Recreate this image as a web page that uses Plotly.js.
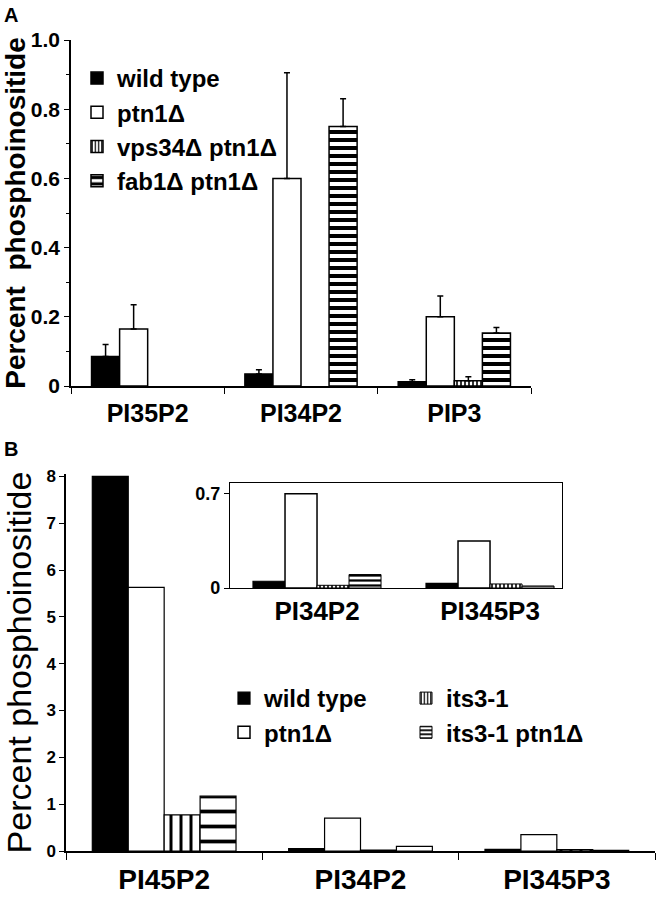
<!DOCTYPE html>
<html><head><meta charset="utf-8">
<script src="https://cdn.plot.ly/plotly-3.0.1.min.js"></script>
<style>body{margin:0;background:#fff}#chart{width:656px;height:900px}</style>
</head><body><div id="chart"></div>
<script>
// Panel A data
const catsA = ['PI35P2', 'PI34P2', 'PIP3'];
const wildA = [0.085, 0.035, 0.012];
const wildAerr = [0.035, 0.012, 0.006];
const ptnA = [0.165, 0.60, 0.20];
const ptnAerr = [0.07, 0.305, 0.06];
const vpsA = [null, null, 0.015];
const vpsAerr = [0, 0, 0.012];
const fabA = [null, 0.75, 0.153];
const fabAerr = [0, 0.08, 0.016];
const yTicksA = [0, 0.2, 0.4, 0.6, 0.8, 1.0];
const yTickTextA = ['0', '0.2', '0.4', '0.6', '0.8', '1.0'];

// Panel B data
const catsB = ['PI45P2', 'PI34P2', 'PI345P3'];
const wildB = [8.0, 0.05, 0.035];
const ptnB = [5.63, 0.70, 0.35];
const itsB = [0.77, 0.02, 0.03];
const itsPtnB = [1.17, 0.10, 0.015];
const catsInset = ['PI34P2', 'PI345P3'];
const insetTicks = [0, 0.7];
const insetTickText = ['0', '0.7'];

const FONT = 'Liberation Sans, Arial, Helvetica, sans-serif';
const P = 656, H = 900;
const px = v => v / P, py = v => 1 - v / H;

const line = w => ({color: '#000', width: w});
function bar(x, y, name, opts) {
  return Object.assign({type: 'bar', x: x, y: y, name: name, hoverinfo: 'x+y+name'}, opts);
}
function errs(arr) {
  return {type: 'data', symmetric: false, array: arr, arrayminus: arr.map(() => 0),
          color: '#000', thickness: 1.5, width: 3};
}

const wA = 0.183, wB = 0.183, wI = 0.185;
const pat = (shape, size, sol) => ({shape: shape, fgcolor: '#000', bgcolor: '#fff', size: size, solidity: sol, fillmode: 'replace'});

const traces = [
  // Panel A
  bar(catsA, wildA, 'wild type', {xaxis: 'x', yaxis: 'y', legend: 'legend', legendgroup: 'a1',
    width: wA, offset: -2 * wA, marker: {color: '#000', line: line(1.5)}, error_y: errs(wildAerr)}),
  bar(catsA, ptnA, 'ptn1Δ', {xaxis: 'x', yaxis: 'y', legend: 'legend', legendgroup: 'a2',
    width: wA, offset: -wA, marker: {color: '#fff', line: line(1.5)}, error_y: errs(ptnAerr)}),
  bar(catsA, vpsA, 'vps34Δ ptn1Δ', {xaxis: 'x', yaxis: 'y', legend: 'legend', legendgroup: 'a3',
    width: wA, offset: 0, marker: {color: '#fff', line: line(1.5), pattern: pat('|', 4, 0.4)}, error_y: errs(vpsAerr)}),
  bar(catsA, fabA, 'fab1Δ ptn1Δ', {xaxis: 'x', yaxis: 'y', legend: 'legend', legendgroup: 'a4',
    width: wA, offset: wA, marker: {color: '#fff', line: line(1.5), pattern: pat('-', 8, 0.5)}, error_y: errs(fabAerr)}),
  // Panel B main
  bar(catsB, wildB, 'wild type', {xaxis: 'x2', yaxis: 'y2', showlegend: false, legendgroup: 'b1',
    width: wB, offset: -2 * wB, marker: {color: '#000', line: line(1.2)}}),
  bar(catsB, ptnB, 'ptn1Δ', {xaxis: 'x2', yaxis: 'y2', showlegend: false, legendgroup: 'b2',
    width: wB, offset: -wB, marker: {color: '#fff', line: line(1.2)}}),
  bar(catsB, itsB, 'its3-1', {xaxis: 'x2', yaxis: 'y2', showlegend: false, legendgroup: 'b3',
    width: wB, offset: 0, marker: {color: '#fff', line: line(1.2), pattern: pat('|', 10, 0.3)}}),
  bar(catsB, itsPtnB, 'its3-1 ptn1Δ', {xaxis: 'x2', yaxis: 'y2', showlegend: false, legendgroup: 'b4',
    width: wB, offset: wB, marker: {color: '#fff', line: line(1.2), pattern: pat('-', 15, 0.25)}}),
  // Panel B inset (also carries the legend entries)
  bar(catsInset, wildB.slice(1), 'wild type', {xaxis: 'x3', yaxis: 'y3', legend: 'legend2', legendgroup: 'b1',
    width: wI, offset: -2 * wI, marker: {color: '#000', line: line(1.2)}}),
  bar(catsInset, ptnB.slice(1), 'ptn1Δ', {xaxis: 'x3', yaxis: 'y3', legend: 'legend2', legendgroup: 'b2',
    width: wI, offset: -wI, marker: {color: '#fff', line: line(1.5)}}),
  bar(catsInset, itsB.slice(1), 'its3-1', {xaxis: 'x3', yaxis: 'y3', legend: 'legend3', legendgroup: 'b3',
    width: wI, offset: 0, marker: {color: '#fff', line: line(1), pattern: pat('|', 4, 0.4)}}),
  bar(catsInset, itsPtnB.slice(1), 'its3-1 ptn1Δ', {xaxis: 'x3', yaxis: 'y3', legend: 'legend3', legendgroup: 'b4',
    width: wI, offset: wI, marker: {color: '#fff', line: line(1), pattern: pat('-', 5, 0.45)}})
];

const axBase = {showgrid: false, zeroline: false, showline: true, linecolor: '#000', linewidth: 1.5,
  tickcolor: '#000', fixedrange: true};
const boldFont = s => ({family: FONT, size: s, color: '#000', weight: 'bold'});
const legendBase = {xanchor: 'left', yanchor: 'top', bgcolor: 'rgba(0,0,0,0)', font: boldFont(24),
  tracegroupgap: 0, itemclick: false, itemdoubleclick: false};

const layout = {
  width: P, height: H,
  margin: {l: 0, r: 0, t: 0, b: 0},
  paper_bgcolor: '#fff', plot_bgcolor: 'rgba(0,0,0,0)',
  barmode: 'group',
  font: {family: FONT, color: '#000'},
  xaxis: Object.assign({}, axBase, {domain: [px(71), px(531)], anchor: 'y', type: 'category',
    range: [-0.5, 2.5], ticks: 'outside', tickson: 'boundaries', ticklen: 6, tickfont: boldFont(25),
    ticklabelstandoff: 4}),
  yaxis: Object.assign({}, axBase, {domain: [py(386), py(40)], anchor: 'x', range: [0, 1.0],
    tickvals: yTicksA, ticktext: yTickTextA, ticks: 'outside', ticklen: 5, tickfont: boldFont(21),
    minor: {dtick: 0.1, ticks: 'outside', ticklen: 3, tickcolor: '#000'},
    title: {text: 'Percent  phosphoinositide', font: boldFont(28), standoff: 4}}),
  xaxis2: Object.assign({}, axBase, {domain: [px(66), px(655)], anchor: 'y2', type: 'category',
    range: [-0.5, 2.5], ticks: 'outside', tickson: 'boundaries', ticklen: 7, tickfont: boldFont(28),
    ticklabelstandoff: 3}),
  yaxis2: Object.assign({}, axBase, {domain: [py(851), py(474)], anchor: 'x2', range: [0, 8.05],
    dtick: 1, ticks: 'outside', ticklen: 5, tickfont: boldFont(17),
    title: {text: 'Percent phosphoinositide', font: {family: FONT, size: 34, color: '#000'}, standoff: 8}}),
  xaxis3: Object.assign({}, axBase, {domain: [px(230), px(562)], anchor: 'y3', type: 'category',
    range: [-0.503, 1.416], ticks: '', mirror: true, linewidth: 1.2, tickfont: boldFont(26)}),
  yaxis3: Object.assign({}, axBase, {domain: [py(588), py(483)], anchor: 'x3', range: [0, 0.78],
    tickvals: insetTicks, ticktext: insetTickText, ticks: 'outside', ticklen: 5, mirror: true, linewidth: 1.2,
    tickfont: boldFont(18)}),
  legend: Object.assign({}, legendBase, {x: px(77), y: py(56)}),
  legend2: Object.assign({}, legendBase, {x: px(224), y: py(676)}),
  legend3: Object.assign({}, legendBase, {x: px(406), y: py(676)}),
  annotations: [
    {text: 'A', x: px(2), y: py(2), xref: 'paper', yref: 'paper', xanchor: 'left', yanchor: 'top',
     showarrow: false, font: boldFont(20)},
    {text: 'B', x: px(2), y: py(436), xref: 'paper', yref: 'paper', xanchor: 'left', yanchor: 'top',
     showarrow: false, font: boldFont(20)}
  ]
};

Plotly.newPlot('chart', traces, layout, {displayModeBar: false, responsive: false});
</script>
</body></html>
